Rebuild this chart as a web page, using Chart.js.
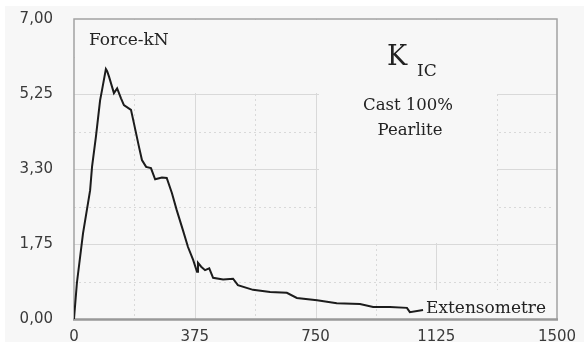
<!DOCTYPE html>
<html>
<head>
<meta charset="utf-8">
<script src="https://cdn.jsdelivr.net/npm/chart.js@4.4.1/dist/chart.umd.min.js"></script>
<style>
  html, body { margin: 0; padding: 0; background: #ffffff; }
  #wrap { width: 584px; height: 348px; }
</style>
</head>
<body>
<div id="wrap"><canvas id="kic" width="584" height="348"></canvas></div>
<script>
  // ===== DATA =====
  const extensometre = [0, 9, 28, 50, 56, 68, 81, 87, 99, 103, 109, 124, 134, 146, 155, 177, 186, 202, 211, 224, 239, 252, 273, 288, 304, 319, 338, 354, 370, 382, 385, 395, 407, 420, 432, 463, 494, 509, 556, 609, 661, 692, 755, 816, 888, 929, 981, 1034, 1043, 1084];
  const forceKN = [0, 0.84, 2.0, 3.0, 3.55, 4.25, 5.1, 5.34, 5.83, 5.78, 5.65, 5.27, 5.38, 5.15, 4.99, 4.88, 4.57, 4.01, 3.71, 3.55, 3.52, 3.26, 3.30, 3.29, 2.94, 2.54, 2.08, 1.68, 1.38, 1.10, 1.31, 1.22, 1.14, 1.18, 0.96, 0.92, 0.94, 0.79, 0.68, 0.63, 0.61, 0.49, 0.44, 0.37, 0.35, 0.28, 0.28, 0.26, 0.16, 0.21];

  const xTicks = [0, 375, 750, 1125, 1500];
  const xTickLabels = ["0", "375", "750", "1125", "1500"];
  const yTicks = [0, 1.75, 3.5, 5.25, 7];
  const yTickLabels = ["0,00", "1,75", "3,30", "5,25", "7,00"];
  const xMinor = [187.5, 562.5, 937.5, 1312.5];
  const yMinor = [0.875, 2.625, 4.375, 6.125];

  // ===== STYLE =====
  const panelColor = "#f7f7f7";
  const gridColor = "#d9d9d9";
  const frameColor = "#a3a3a3";
  const serif = "'DejaVu Serif', 'Liberation Serif', serif";

  // areas where the original picture has no grid (label boxes)
  const blankBoxes = [
    [74, 19, 557, 93],
    [318, 19, 497, 243],
    [420, 289, 557, 319]
  ];

  const gridAndText = {
    id: "gridAndText",
    beforeDraw(chart) {
      const c = chart.ctx;
      c.save();
      c.fillStyle = panelColor;
      c.fillRect(5, 6, 579, 336);
      c.restore();
    },
    beforeDatasetsDraw(chart) {
      const c = chart.ctx;
      const a = chart.chartArea;
      const xs = chart.scales.x, ys = chart.scales.y;
      c.save();
      c.strokeStyle = gridColor;
      c.lineWidth = 1;
      // major solid
      c.setLineDash([]);
      xTicks.slice(1, -1).forEach(v => {
        const px = Math.round(xs.getPixelForValue(v)) + 0.5;
        c.beginPath(); c.moveTo(px, a.top); c.lineTo(px, a.bottom); c.stroke();
      });
      yTicks.slice(1, -1).forEach(v => {
        const py = Math.round(ys.getPixelForValue(v)) + 0.5;
        c.beginPath(); c.moveTo(a.left, py); c.lineTo(a.right, py); c.stroke();
      });
      // minor dotted
      c.setLineDash([2, 3]);
      xMinor.forEach(v => {
        const px = Math.round(xs.getPixelForValue(v)) + 0.5;
        c.beginPath(); c.moveTo(px, a.top); c.lineTo(px, a.bottom - 3); c.stroke();
      });
      yMinor.forEach(v => {
        const py = Math.round(ys.getPixelForValue(v)) + 0.5;
        c.beginPath(); c.moveTo(a.left, py); c.lineTo(a.right - 3, py); c.stroke();
      });
      c.setLineDash([]);
      // erase where the label boxes sit
      c.fillStyle = panelColor;
      blankBoxes.forEach(b => c.fillRect(b[0] + 1, b[1] + 1, b[2] - b[0] - 1, b[3] - b[1] - 1));
      // frame
      c.strokeStyle = frameColor;
      c.lineWidth = 1.5;
      c.beginPath();
      c.moveTo(a.left, a.bottom); c.lineTo(a.left, a.top); c.lineTo(a.right, a.top); c.lineTo(a.right, a.bottom);
      c.stroke();
      c.lineWidth = 2.5;
      c.strokeStyle = "#999999";
      c.beginPath(); c.moveTo(a.left - 1, a.bottom + 0.5); c.lineTo(a.right + 1, a.bottom + 0.5); c.stroke();

      // labels
      c.fillStyle = "#222222";
      c.textBaseline = "alphabetic";
      c.textAlign = "left";
      c.font = "17px " + serif;
      c.fillText("Force-kN", 89, 45);
      c.font = "27px " + serif;
      c.fillText("K", 387, 65);
      c.font = "17px " + serif;
      c.fillText("IC", 417, 76);
      c.textAlign = "center";
      c.font = "16.5px " + serif;
      c.fillText("Cast 100%", 408, 110);
      c.fillText("Pearlite", 410, 135);
      c.textAlign = "left";
      c.font = "17px " + serif;
      c.fillText("Extensometre", 426, 313);
      c.restore();
    }
  };

  const tickFont = { family: "'DejaVu Sans', sans-serif", size: 15 };

  new Chart(document.getElementById("kic"), {
    type: "scatter",
    data: {
      datasets: [{
        data: extensometre.map((x, i) => ({ x, y: forceKN[i] })),
        showLine: true,
        borderColor: "#1c1c1c",
        borderWidth: 2,
        pointRadius: 0,
        tension: 0
      }]
    },
    options: {
      responsive: false,
      animation: false,
      layout: { padding: { top: 19, right: 27, left: 0, bottom: 0 } },
      plugins: { legend: { display: false }, tooltip: { enabled: false } },
      scales: {
        x: {
          type: "linear",
          min: 0, max: 1500,
          afterBuildTicks: s => { s.ticks = xTicks.map(v => ({ value: v })); },
          afterFit: s => { s.height = 29; s.paddingLeft = 0; s.paddingRight = 0; },
          ticks: {
            color: "#3a3a3a", font: tickFont, padding: 9, maxRotation: 0, autoSkip: false,
            callback: (v, i) => xTickLabels[i]
          },
          grid: { display: false, drawTicks: false },
          border: { display: false }
        },
        y: {
          min: 0, max: 7,
          afterBuildTicks: s => { s.ticks = yTicks.map(v => ({ value: v })); },
          afterFit: s => { s.width = 74; s.paddingTop = 0; s.paddingBottom = 0; },
          ticks: {
            color: "#3a3a3a", font: tickFont, padding: 21, autoSkip: false,
            callback: (v, i) => yTickLabels[i]
          },
          grid: { display: false, drawTicks: false },
          border: { display: false }
        }
      }
    },
    plugins: [gridAndText]
  });
</script>
</body>
</html>
